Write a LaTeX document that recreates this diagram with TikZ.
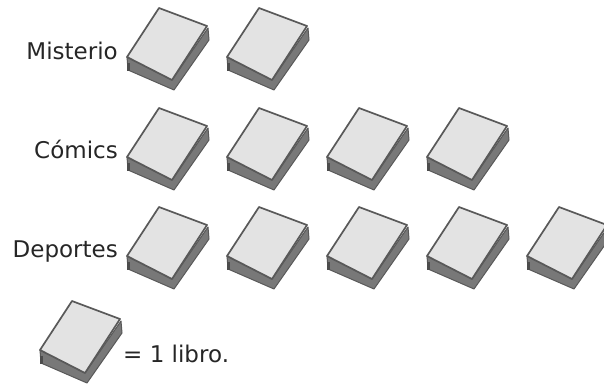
\documentclass[tikz,border=0pt]{standalone}
\usepackage{fontspec}
\setmainfont{DejaVu Sans}
\definecolor{coverfill}{gray}{0.89}
\definecolor{sidefill}{gray}{0.47}
\definecolor{edgecol}{gray}{0.35}
\tikzset{
  x=1pt,y=-1pt,
  lbl/.style={inner sep=0pt,font=\fontsize{23}{27}\selectfont,text=black!85},
  book/.pic={
    \fill[sidefill,draw=edgecol,line width=1pt,line join=round]
      (0,0) -- (1,13) -- (47,33) -- (82,-17) -- (81,-29) -- (45,23) -- cycle;
    \fill[black!70] (-0.5,6) rectangle (3,14);
    \fill[coverfill,draw=edgecol,line width=1.7pt,line join=round]
      (0,0) -- (32,-49) -- (80,-31) -- (45,23) -- cycle;
  }
}
\begin{document}
\begin{tikzpicture}
\useasboundingbox (0,0) rectangle (604,384);
\foreach \x in {127,227}
  \pic at (\x,57) {book};
\foreach \x in {127,227,327,427}
  \pic at (\x,157) {book};
\foreach \x in {127,227,327,427,527}
  \pic at (\x,256) {book};
\pic at (40,350) {book};
\node[lbl,anchor=base east] (misterio) at (118,59) {Misterio};
\node[lbl,anchor=base east] (comics) at (118,158) {Cómics};
\node[lbl,anchor=base east] (deportes) at (118,257) {Deportes};
\node[lbl,anchor=base west] (unlibro) at (123,362) {= 1 libro.};
\end{tikzpicture}
\end{document}
